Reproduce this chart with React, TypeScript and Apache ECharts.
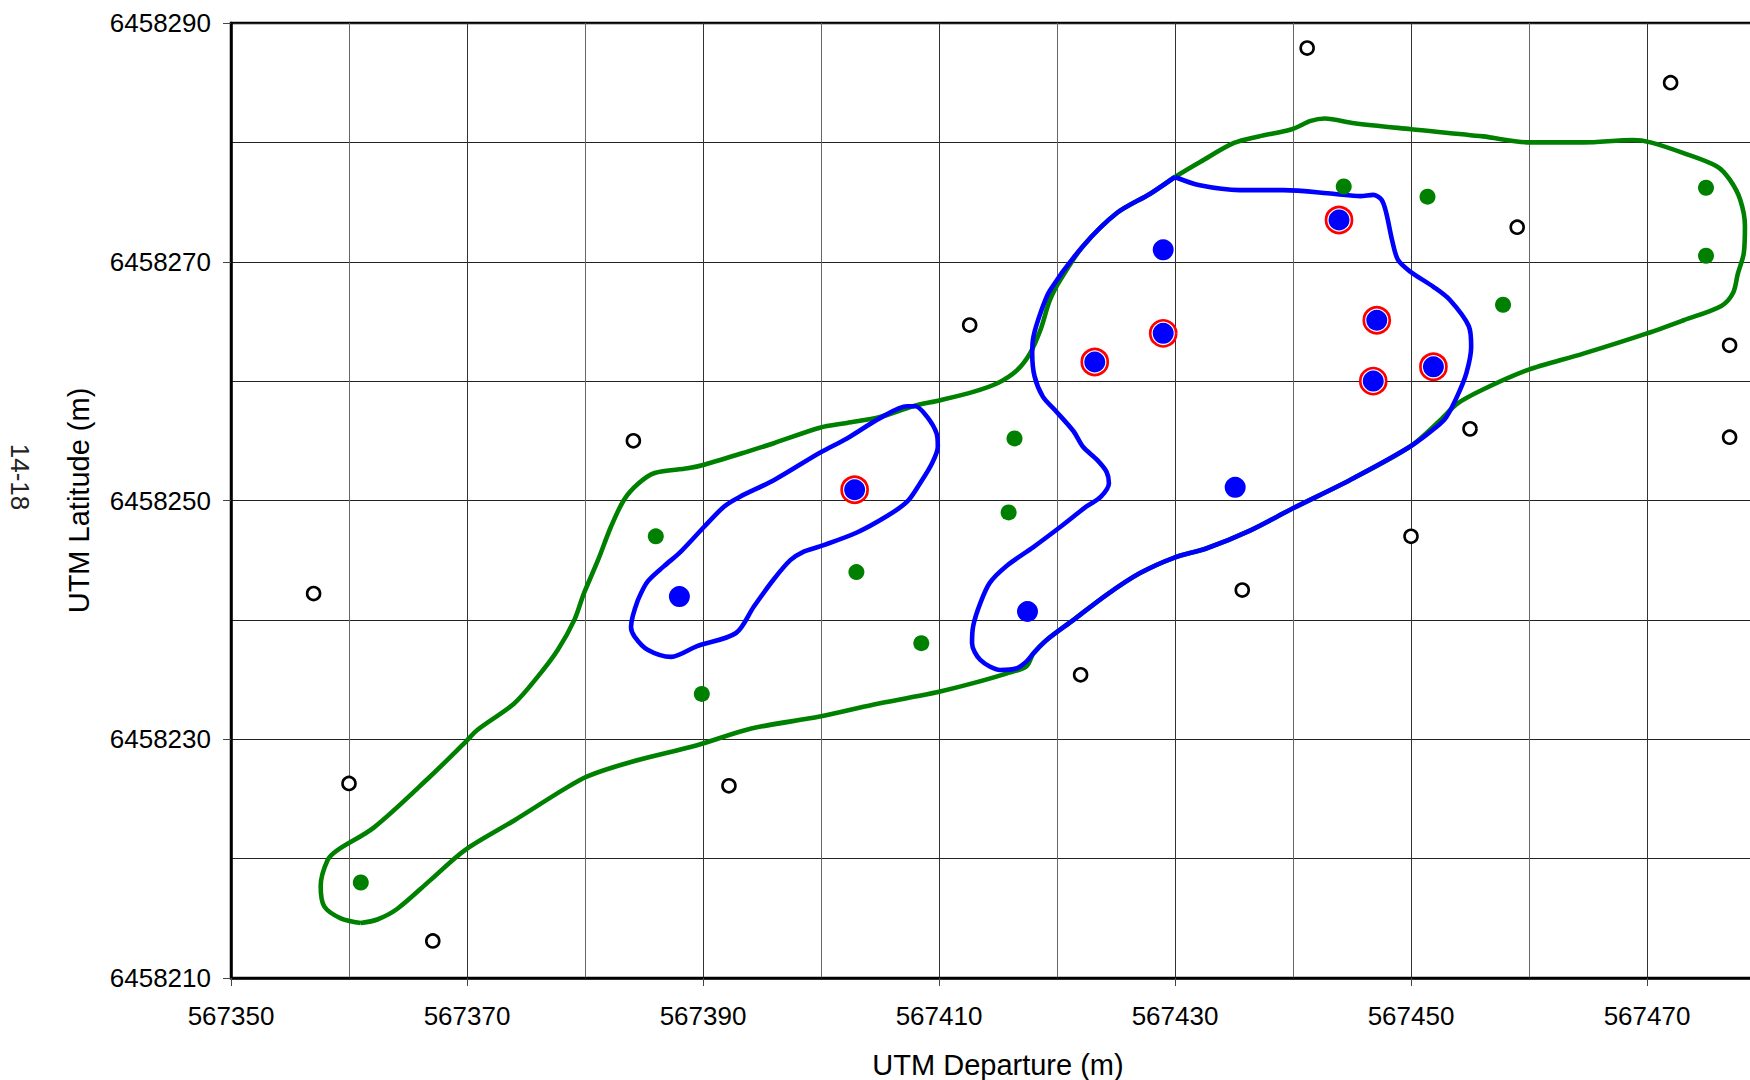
import React, { useEffect, useRef } from 'react';
import * as echarts from 'echarts';

const FONT = 'Liberation Sans, Arial, Helvetica, sans-serif';

// Axis ranges (tick labels every 20 m, grid every 10 m)
const X_MIN = 567350;
const X_MAX = 567490; // plot continues past the right edge of the page
const X_STEP = 20;
const Y_MIN = 6458210;
const Y_MAX = 6458290;
const Y_STEP = 20;

const X_TITLE = 'UTM Departure (m)';
const Y_TITLE = 'UTM Latitude (m)';
const SIDE_NOTE = '14-18';

// Sample locations (open black circles)
const openPoints: number[][] = [
  [567441.2, 6458287.9], [567472.0, 6458285.0], [567459.0, 6458272.9],
  [567412.6, 6458264.7], [567477.0, 6458263.0], [567384.1, 6458255.0],
  [567455.0, 6458256.0], [567477.0, 6458255.3], [567450.0, 6458247.0],
  [567357.0, 6458242.2], [567435.7, 6458242.5], [567422.0, 6458235.4],
  [567360.0, 6458226.3], [567392.2, 6458226.1], [567367.1, 6458213.1],
];

// Green filled dots
const greenPoints: number[][] = [
  [567444.3, 6458276.3], [567451.4, 6458275.45], [567475.0, 6458276.2],
  [567475.0, 6458270.5], [567457.8, 6458266.4], [567416.4, 6458255.2],
  [567415.9, 6458249.0], [567386.0, 6458247.0], [567403.0, 6458244.0],
  [567408.5, 6458238.05], [567389.9, 6458233.8], [567361.0, 6458218.0],
];

// Blue filled dots
const bluePoints: number[][] = [
  [567443.9, 6458273.5], [567429.0, 6458271.0], [567447.1, 6458265.1],
  [567423.2, 6458261.6], [567429.0, 6458264.0], [567446.8, 6458260.0],
  [567451.9, 6458261.2], [567402.85, 6458250.9], [567435.1, 6458251.1],
  [567388.0, 6458241.95], [567417.5, 6458240.7],
];

// Red rings (around some blue dots)
const ringPoints: number[][] = [
  [567443.9, 6458273.5], [567447.1, 6458265.1], [567423.2, 6458261.6],
  [567429.0, 6458264.0], [567446.8, 6458260.0], [567451.9, 6458261.2],
  [567402.85, 6458250.9],
];

// Green outer contour
const greenContour: number[][] = [
  [567361.0, 6458214.6], [567359.3, 6458215.0], [567357.9, 6458216.0], [567357.6, 6458217.7],
  [567358.2, 6458219.9], [567359.0, 6458220.7], [567362.1, 6458222.6], [567366.9, 6458226.9],
  [567369.8, 6458229.7], [567370.9, 6458230.8], [567374.0, 6458233.0], [567376.0, 6458235.25],
  [567377.7, 6458237.5], [567379.1, 6458240.0], [567379.9, 6458242.2], [567381.1, 6458245.0],
  [567382.2, 6458247.8], [567383.3, 6458250.05], [567384.5, 6458251.4], [567385.9, 6458252.3],
  [567388.7, 6458252.7], [567390.1, 6458253.0], [567394.1, 6458254.2], [567396.0, 6458254.8],
  [567399.9, 6458256.1], [567402.2, 6458256.5], [567405.0, 6458257.0], [567407.8, 6458257.9],
  [567410.1, 6458258.4], [567412.9, 6458259.1], [567414.9, 6458259.8], [567416.6, 6458260.9],
  [567417.7, 6458262.3], [567418.6, 6458264.3], [567419.4, 6458266.8], [567420.3, 6458268.5],
  [567422.2, 6458271.3], [567425.1, 6458274.1], [567427.9, 6458275.7], [567430.0, 6458277.1],
  [567432.2, 6458278.4], [567435.0, 6458279.95], [567437.1, 6458280.5], [567439.9, 6458281.1],
  [567441.5, 6458281.8], [567442.7, 6458282.0], [567445.2, 6458281.6], [567450.0, 6458281.1],
  [567456.1, 6458280.5], [567460.0, 6458280.0], [567464.6, 6458280.0], [567468.8, 6458280.2],
  [567470.3, 6458280.0], [567473.1, 6458279.1], [567475.9, 6458278.0], [567477.0, 6458276.9],
  [567477.9, 6458275.2], [567478.3, 6458273.0], [567478.2, 6458270.7], [567477.7, 6458269.0],
  [567477.3, 6458267.4], [567476.3, 6458266.3], [567473.1, 6458265.1], [567470.0, 6458264.0],
  [567464.6, 6458262.3], [567459.8, 6458260.9], [567456.1, 6458259.3], [567453.9, 6458258.1],
  [567452.5, 6458256.75], [567449.9, 6458254.5], [567444.8, 6458251.7], [567440.0, 6458249.35],
  [567436.4, 6458247.5], [567432.7, 6458246.0], [567429.9, 6458245.2], [567427.0, 6458243.9],
  [567424.2, 6458242.1], [567421.4, 6458240.0], [567419.1, 6458238.3], [567418.0, 6458237.2],
  [567417.4, 6458236.1], [567415.7, 6458235.5], [567412.9, 6458234.7], [567410.1, 6458234.0],
  [567408.1, 6458233.6], [567404.4, 6458232.9], [567399.9, 6458231.9], [567394.1, 6458230.9],
  [567389.5, 6458229.5], [567383.9, 6458228.1], [567380.2, 6458226.9], [567378.2, 6458225.8],
  [567374.0, 6458223.2], [567369.8, 6458220.7], [567366.9, 6458218.2], [567364.1, 6458215.8],
  [567362.4, 6458214.9], [567361.0, 6458214.6],
];

// Blue contour (large, right)
const blueContourBig: number[][] = [
  [567430.0, 6458277.1], [567432.1, 6458276.4], [567435.5, 6458276.0], [567439.2, 6458276.0],
  [567443.4, 6458275.7], [567445.7, 6458275.5], [567446.8, 6458275.6], [567447.5, 6458275.2],
  [567447.9, 6458274.1], [567448.4, 6458271.8], [567448.9, 6458270.15], [567449.9, 6458269.2],
  [567451.9, 6458267.9], [567453.3, 6458266.8], [567454.9, 6458264.6], [567455.1, 6458262.9],
  [567454.7, 6458260.7], [567453.9, 6458258.7], [567453.0, 6458257.0], [567452.2, 6458256.2],
  [567449.9, 6458254.5], [567444.8, 6458251.7], [567440.0, 6458249.35], [567436.4, 6458247.5],
  [567432.7, 6458246.0], [567429.9, 6458245.2], [567427.0, 6458243.9], [567424.2, 6458242.1],
  [567421.4, 6458240.0], [567419.1, 6458238.3], [567418.0, 6458237.2], [567417.4, 6458236.5],
  [567416.6, 6458235.95], [567415.2, 6458235.8], [567413.5, 6458236.65], [567412.8, 6458238.05],
  [567412.9, 6458239.5], [567413.5, 6458241.4], [567414.3, 6458243.1], [567415.7, 6458244.5],
  [567418.0, 6458246.1], [567420.3, 6458247.8], [567422.5, 6458249.5], [567423.7, 6458250.3],
  [567424.4, 6458251.45], [567424.2, 6458252.4], [567423.4, 6458253.4], [567422.2, 6458254.5],
  [567421.4, 6458255.8], [567419.8, 6458257.6], [567418.8, 6458258.7], [567418.1, 6458260.4],
  [567417.9, 6458262.3], [567418.0, 6458263.7], [567418.6, 6458265.7], [567419.4, 6458267.6],
  [567422.2, 6458271.3], [567425.1, 6458274.1], [567427.9, 6458275.7], [567430.0, 6458277.1],
];

// Blue contour (small, left)
const blueContourSmall: number[][] = [
  [567384.5, 6458241.7], [567385.3, 6458243.2], [567386.7, 6458244.5], [567388.1, 6458245.7],
  [567390.1, 6458247.8], [567391.8, 6458249.5], [567393.1, 6458250.3], [567396.0, 6458251.7],
  [567399.9, 6458254.0], [567402.2, 6458255.2], [567405.0, 6458256.9], [567407.3, 6458257.9],
  [567408.0, 6458257.9], [567409.0, 6458257.0], [567409.8, 6458255.6], [567409.9, 6458254.5],
  [567409.4, 6458253.1], [567408.4, 6458251.45], [567407.3, 6458249.9], [567405.6, 6458248.7],
  [567403.0, 6458247.3], [567399.9, 6458246.15], [567398.5, 6458245.7], [567397.4, 6458245.0],
  [567396.0, 6458243.4], [567394.3, 6458241.1], [567392.8, 6458238.9], [567389.5, 6458237.8],
  [567387.3, 6458236.9], [567385.3, 6458237.5], [567384.2, 6458238.6], [567383.9, 6458239.4],
  [567384.5, 6458241.7],
];

export default function App() {
  const ref = useRef<HTMLDivElement>(null);

  useEffect(() => {
    if (!ref.current) return;
    const chart = echarts.init(ref.current, null, { renderer: 'svg' });

    const lineSeries = (data: number[][], color: string, z: number) => ({
      type: 'line',
      data,
      smooth: 0.3,
      symbol: 'none',
      silent: true,
      z,
      lineStyle: { color, width: 4.6 },
    });

    chart.setOption({
      animation: false,
      backgroundColor: '#ffffff',
      textStyle: { fontFamily: FONT },
      grid: {
        left: 231,
        top: 23,
        right: 17,
        bottom: 102,
        show: true,
        borderColor: '#000',
        borderWidth: 2.5,
        backgroundColor: 'transparent',
        containLabel: false,
        outerBoundsMode: 'none',
      },
      xAxis: {
        type: 'value',
        min: X_MIN,
        max: X_MAX,
        interval: X_STEP,
        axisLine: { show: true, onZero: false, lineStyle: { color: '#000', width: 2.5 } },
        axisTick: { show: true, inside: false, length: 8, lineStyle: { color: '#444', width: 1 } },
        axisLabel: {
          fontSize: 26,
          color: '#000',
          fontFamily: FONT,
          margin: 25,
          showMaxLabel: false,
          formatter: (v: number) => String(v),
        },
        splitLine: { show: true, lineStyle: { color: '#333', width: 1 } },
        minorTick: { show: false, splitNumber: 2 },
        minorSplitLine: { show: true, lineStyle: { color: '#666', width: 1 } },
      },
      yAxis: {
        type: 'value',
        min: Y_MIN,
        max: Y_MAX,
        interval: Y_STEP,
        name: Y_TITLE,
        nameLocation: 'middle',
        nameGap: 138,
        nameTextStyle: { fontSize: 29, color: '#000', fontFamily: FONT },
        axisLine: { show: true, onZero: false, lineStyle: { color: '#000', width: 2.5 } },
        axisTick: { show: true, inside: false, length: 8, lineStyle: { color: '#444', width: 1 } },
        axisLabel: {
          fontSize: 26,
          color: '#000',
          fontFamily: FONT,
          margin: 20,
          formatter: (v: number) => String(v),
        },
        splitLine: { show: true, lineStyle: { color: '#222', width: 1 } },
        minorTick: { show: false, splitNumber: 2 },
        minorSplitLine: { show: true, lineStyle: { color: '#222', width: 1 } },
      },
      graphic: [
        {
          type: 'text',
          x: 998,
          y: 1065,
          silent: true,
          style: {
            text: X_TITLE,
            fill: '#000',
            font: `29px ${FONT}`,
            textAlign: 'center',
            textVerticalAlign: 'middle',
          },
        },
        {
          type: 'text',
          x: 20,
          y: 477,
          rotation: -Math.PI / 2,
          silent: true,
          style: {
            text: SIDE_NOTE,
            fill: '#222',
            font: `26px ${FONT}`,
            textAlign: 'center',
            textVerticalAlign: 'middle',
          },
        },
      ],
      series: [
        lineSeries(greenContour, '#008000', 2),
        lineSeries(blueContourBig, '#0000ff', 3),
        lineSeries(blueContourSmall, '#0000ff', 3),
        {
          type: 'scatter',
          data: openPoints,
          symbol: 'circle',
          symbolSize: 13,
          silent: true,
          z: 4,
          itemStyle: { color: '#ffffff', borderColor: '#000', borderWidth: 2.6, opacity: 1 },
        },
        {
          type: 'scatter',
          data: greenPoints,
          symbol: 'circle',
          symbolSize: 16,
          silent: true,
          z: 5,
          itemStyle: { color: '#008000', opacity: 1 },
        },
        {
          type: 'scatter',
          data: ringPoints,
          symbol: 'circle',
          symbolSize: 26,
          silent: true,
          z: 6,
          itemStyle: { color: '#ffffff', borderColor: '#ff0000', borderWidth: 2.7, opacity: 1 },
        },
        {
          type: 'scatter',
          data: bluePoints,
          symbol: 'circle',
          symbolSize: 21,
          silent: true,
          z: 7,
          itemStyle: { color: '#0000ff', opacity: 1 },
        },
      ],
    });

    return () => {
      chart.dispose();
    };
  }, []);

  return (
    <div
      style={{
        position: 'fixed',
        left: 0,
        top: 0,
        width: 1750,
        height: 1080,
        overflow: 'hidden',
        background: '#fff',
      }}
    >
      <div ref={ref} style={{ width: 1900, height: 1080 }} />
    </div>
  );
}
